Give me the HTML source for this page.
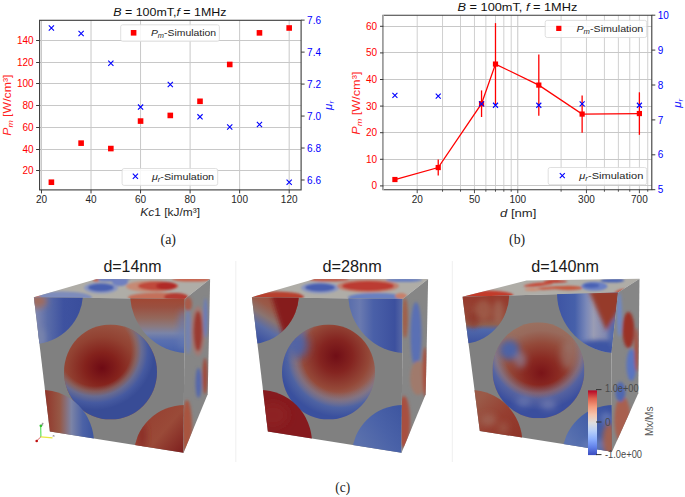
<!DOCTYPE html>
<html><head><meta charset="utf-8"><style>
html,body{margin:0;padding:0;background:#fff;}
body{width:685px;height:497px;overflow:hidden;}
svg{display:block;font-family:"Liberation Sans", sans-serif;}
</style></head><body>
<svg width="685" height="497" viewBox="0 0 685 497">
<defs>
<clipPath id="cf1"><polygon points="33.9,297.2 96.6,279 210.1,279.1 184.7,299"/></clipPath>
<filter id="bl2" x="-50%" y="-50%" width="200%" height="200%"><feGaussianBlur stdDeviation="1.2"/></filter>
<linearGradient id="lg3" gradientUnits="userSpaceOnUse" x1="36" y1="0" x2="82" y2="0"><stop offset="0" stop-color="#8088b0"/><stop offset="0.25" stop-color="#5a6ca8"/><stop offset="0.6" stop-color="#3e52a0"/><stop offset="1" stop-color="#3a4e9c"/></linearGradient>
<clipPath id="cb4"><ellipse cx="33" cy="293" rx="50" ry="51"/></clipPath>
<filter id="bl5" x="-50%" y="-50%" width="200%" height="200%"><feGaussianBlur stdDeviation="3"/></filter>
<radialGradient id="rg6" gradientUnits="userSpaceOnUse" cx="102" cy="368" r="52" gradientTransform="translate(102 368) scale(1.1 1) translate(-102 -368)"><stop offset="0" stop-color="#6e0a14"/><stop offset="0.3" stop-color="#84221c"/><stop offset="0.6" stop-color="#924232"/><stop offset="0.9" stop-color="#9a5644"/><stop offset="1" stop-color="#9c5c4a"/></radialGradient>
<radialGradient id="rg7" gradientUnits="userSpaceOnUse" cx="95" cy="350" r="60"><stop offset="0" stop-color="rgba(0,0,0,0)"/><stop offset="0.6" stop-color="rgba(130,110,110,0)"/><stop offset="0.69" stop-color="rgba(128,116,122,0.6)"/><stop offset="0.77" stop-color="rgba(100,112,155,0.9)"/><stop offset="0.88" stop-color="rgba(70,90,160,1)"/><stop offset="1" stop-color="rgba(56,76,150,1)"/></radialGradient>
<clipPath id="cb8"><ellipse cx="110.5" cy="372" rx="46.5" ry="47.6"/></clipPath>
<linearGradient id="lg9" gradientUnits="userSpaceOnUse" x1="0" y1="299" x2="0" y2="354"><stop offset="0" stop-color="#a04834"/><stop offset="0.15" stop-color="#9a5040"/><stop offset="0.35" stop-color="#94685c"/><stop offset="0.5" stop-color="#8a7a80"/><stop offset="0.62" stop-color="#7a84a8"/><stop offset="0.75" stop-color="#5a70b0"/><stop offset="1" stop-color="#4660aa"/></linearGradient>
<clipPath id="cb10"><ellipse cx="188" cy="293" rx="58" ry="60"/></clipPath>
<linearGradient id="lg11" gradientUnits="userSpaceOnUse" x1="46" y1="0" x2="92" y2="0"><stop offset="0" stop-color="#92382c"/><stop offset="0.3" stop-color="#965846"/><stop offset="0.55" stop-color="#7c84a6"/><stop offset="0.8" stop-color="#4c62a6"/><stop offset="1" stop-color="#3e56a0"/></linearGradient>
<clipPath id="cb12"><ellipse cx="42" cy="443" rx="52" ry="53"/></clipPath>
<linearGradient id="lg13" gradientUnits="userSpaceOnUse" x1="140" y1="412" x2="186" y2="452"><stop offset="0" stop-color="#963e30"/><stop offset="0.5" stop-color="#9a4a38"/><stop offset="1" stop-color="#7c1c1c"/></linearGradient>
<clipPath id="cb14"><ellipse cx="185" cy="455" rx="51" ry="50"/></clipPath>
<clipPath id="cf15"><polygon points="33.9,297.2 184.7,299 183.5,452.7 49.9,431.4"/></clipPath>
<clipPath id="cf16"><polygon points="184.7,299 210.1,279.1 207.7,394.3 183.5,452.7"/></clipPath>
<filter id="bl17" x="-50%" y="-50%" width="200%" height="200%"><feGaussianBlur stdDeviation="1.5"/></filter>
<clipPath id="cf18"><polygon points="33.9,297.2 96.6,279 210.1,279.1 184.7,299"/></clipPath>
<linearGradient id="lg19" gradientUnits="userSpaceOnUse" x1="38" y1="338" x2="60" y2="302"><stop offset="0" stop-color="#3e54a2"/><stop offset="0.3" stop-color="#5a6ca6"/><stop offset="0.55" stop-color="#8a7470"/><stop offset="0.8" stop-color="#9a5a48"/><stop offset="1" stop-color="#9a5040"/></linearGradient>
<clipPath id="cb20"><ellipse cx="33" cy="293" rx="48" ry="51"/></clipPath>
<filter id="bl21" x="-50%" y="-50%" width="200%" height="200%"><feGaussianBlur stdDeviation="2"/></filter>
<radialGradient id="rg22" gradientUnits="userSpaceOnUse" cx="118" cy="356" r="55"><stop offset="0" stop-color="#700e16"/><stop offset="0.3" stop-color="#842420"/><stop offset="0.6" stop-color="#944838"/><stop offset="0.85" stop-color="#987068"/><stop offset="1" stop-color="#8a7a80"/></radialGradient>
<radialGradient id="rg23" gradientUnits="userSpaceOnUse" cx="122" cy="355" r="62"><stop offset="0" stop-color="rgba(0,0,0,0)"/><stop offset="0.6" stop-color="rgba(120,120,140,0)"/><stop offset="0.72" stop-color="rgba(118,120,150,0.6)"/><stop offset="0.85" stop-color="rgba(75,98,165,0.95)"/><stop offset="1" stop-color="rgba(58,80,158,1)"/></radialGradient>
<clipPath id="cb24"><ellipse cx="110.5" cy="372" rx="46.5" ry="47.6"/></clipPath>
<filter id="bl25" x="-50%" y="-50%" width="200%" height="200%"><feGaussianBlur stdDeviation="4"/></filter>
<linearGradient id="lg26" gradientUnits="userSpaceOnUse" x1="131" y1="0" x2="185" y2="0"><stop offset="0" stop-color="#5a6eac"/><stop offset="0.2" stop-color="#6a7ab0"/><stop offset="0.45" stop-color="#4a60a8"/><stop offset="0.85" stop-color="#3c509e"/><stop offset="1" stop-color="#5a6aa6"/></linearGradient>
<clipPath id="cb27"><ellipse cx="188" cy="293" rx="58" ry="60"/></clipPath>
<clipPath id="cb28"><ellipse cx="42" cy="443" rx="52" ry="53"/></clipPath>
<linearGradient id="lg29" gradientUnits="userSpaceOnUse" x1="140" y1="440" x2="185" y2="410"><stop offset="0" stop-color="#5a70ac"/><stop offset="0.5" stop-color="#4a62a8"/><stop offset="1" stop-color="#3e56a0"/></linearGradient>
<clipPath id="cb30"><ellipse cx="185" cy="455" rx="51" ry="50"/></clipPath>
<clipPath id="cf31"><polygon points="33.9,297.2 184.7,299 183.5,452.7 49.9,431.4"/></clipPath>
<clipPath id="cf32"><polygon points="184.7,299 210.1,279.1 207.7,394.3 183.5,452.7"/></clipPath>
<clipPath id="cf33"><polygon points="34.1,296.8 98.1,280.4 211.1,278.7 189.6,292.5"/></clipPath>
<linearGradient id="lg34" gradientUnits="userSpaceOnUse" x1="0" y1="300" x2="0" y2="345"><stop offset="0" stop-color="#963c2e"/><stop offset="0.4" stop-color="#964a3a"/><stop offset="0.54" stop-color="#90604e"/><stop offset="0.66" stop-color="#5068aa"/><stop offset="1" stop-color="#3a50a0"/></linearGradient>
<clipPath id="cb35"><ellipse cx="33" cy="293" rx="48" ry="51"/></clipPath>
<filter id="bl36" x="-50%" y="-50%" width="200%" height="200%"><feGaussianBlur stdDeviation="2.5"/></filter>
<radialGradient id="rg37" gradientUnits="userSpaceOnUse" cx="113" cy="373" r="50" gradientTransform="translate(113 373) scale(1.1 1) translate(-113 -373)"><stop offset="0" stop-color="#7a1418"/><stop offset="0.3" stop-color="#8a2a22"/><stop offset="0.6" stop-color="#944a3a"/><stop offset="0.85" stop-color="#986a5c"/><stop offset="1" stop-color="#9a7060"/></radialGradient>
<radialGradient id="rg38" gradientUnits="userSpaceOnUse" cx="110" cy="350" r="60"><stop offset="0" stop-color="rgba(0,0,0,0)"/><stop offset="0.58" stop-color="rgba(120,120,140,0)"/><stop offset="0.72" stop-color="rgba(120,125,160,0.6)"/><stop offset="0.82" stop-color="rgba(80,100,168,0.92)"/><stop offset="1" stop-color="rgba(58,78,158,1)"/></radialGradient>
<clipPath id="cb39"><ellipse cx="110" cy="370.3" rx="46" ry="48"/></clipPath>
<linearGradient id="lg40" gradientUnits="userSpaceOnUse" x1="128" y1="0" x2="190" y2="0"><stop offset="0" stop-color="#3e54a4"/><stop offset="0.3" stop-color="#4660aa"/><stop offset="0.48" stop-color="#7a88b8"/><stop offset="0.6" stop-color="#9a9cb4"/><stop offset="0.8" stop-color="#8088b0"/><stop offset="1" stop-color="#5a6cac"/></linearGradient>
<clipPath id="cb41"><ellipse cx="188.6" cy="293" rx="60" ry="60"/></clipPath>
<filter id="bl42" x="-50%" y="-50%" width="200%" height="200%"><feGaussianBlur stdDeviation="2.2"/></filter>
<linearGradient id="lg43" gradientUnits="userSpaceOnUse" x1="50" y1="400" x2="90" y2="440"><stop offset="0" stop-color="#9a5a48"/><stop offset="0.5" stop-color="#963e30"/><stop offset="1" stop-color="#8e3428"/></linearGradient>
<clipPath id="cb44"><ellipse cx="42" cy="443" rx="52" ry="53"/></clipPath>
<linearGradient id="lg45" gradientUnits="userSpaceOnUse" x1="140" y1="440" x2="185" y2="410"><stop offset="0" stop-color="#5a72b0"/><stop offset="0.5" stop-color="#4460a8"/><stop offset="1" stop-color="#3a50a0"/></linearGradient>
<clipPath id="cb46"><ellipse cx="185" cy="455" rx="51" ry="50"/></clipPath>
<clipPath id="cf47"><polygon points="34.1,296.8 189.6,292.5 183.1,352 183.6,451.7 51.4,430.9"/></clipPath>
<clipPath id="cf48"><polygon points="189.6,292.5 211.1,278.7 209.9,393.3 183.6,451.7 183.1,352"/></clipPath>
<linearGradient id="lg49" gradientUnits="userSpaceOnUse" x1="0" y1="390.4" x2="0" y2="455.1"><stop offset="0" stop-color="#b40426"/><stop offset="0.125" stop-color="#de604d"/><stop offset="0.25" stop-color="#f49a7b"/><stop offset="0.375" stop-color="#f5c4ad"/><stop offset="0.5" stop-color="#dddddd"/><stop offset="0.625" stop-color="#b8d0f9"/><stop offset="0.75" stop-color="#8db0fe"/><stop offset="0.875" stop-color="#6282ea"/><stop offset="1" stop-color="#3b4cc0"/></linearGradient>
</defs>
<line x1="41.48" y1="20.3" x2="41.48" y2="189.9" stroke="#c8c8c8" stroke-width="1"/>
<line x1="91.02" y1="20.3" x2="91.02" y2="189.9" stroke="#c8c8c8" stroke-width="1"/>
<line x1="140.56" y1="20.3" x2="140.56" y2="189.9" stroke="#c8c8c8" stroke-width="1"/>
<line x1="190.1" y1="20.3" x2="190.1" y2="189.9" stroke="#c8c8c8" stroke-width="1"/>
<line x1="239.64" y1="20.3" x2="239.64" y2="189.9" stroke="#c8c8c8" stroke-width="1"/>
<line x1="289.18" y1="20.3" x2="289.18" y2="189.9" stroke="#c8c8c8" stroke-width="1"/>
<line x1="39.6" y1="170.5" x2="301.1" y2="170.5" stroke="#c8c8c8" stroke-width="1"/>
<line x1="39.6" y1="149.5" x2="301.1" y2="149.5" stroke="#c8c8c8" stroke-width="1"/>
<line x1="39.6" y1="127.5" x2="301.1" y2="127.5" stroke="#c8c8c8" stroke-width="1"/>
<line x1="39.6" y1="105.5" x2="301.1" y2="105.5" stroke="#c8c8c8" stroke-width="1"/>
<line x1="39.6" y1="83.5" x2="301.1" y2="83.5" stroke="#c8c8c8" stroke-width="1"/>
<line x1="39.6" y1="62.5" x2="301.1" y2="62.5" stroke="#c8c8c8" stroke-width="1"/>
<line x1="39.6" y1="40.5" x2="301.1" y2="40.5" stroke="#c8c8c8" stroke-width="1"/>
<rect x="48.59" y="179.42" width="5.6" height="5.6" fill="#ff0000"/>
<rect x="78.31" y="140.34" width="5.6" height="5.6" fill="#ff0000"/>
<rect x="108.04" y="145.76" width="5.6" height="5.6" fill="#ff0000"/>
<rect x="137.76" y="118.27" width="5.6" height="5.6" fill="#ff0000"/>
<rect x="167.49" y="112.64" width="5.6" height="5.6" fill="#ff0000"/>
<rect x="197.21" y="98.5" width="5.6" height="5.6" fill="#ff0000"/>
<rect x="226.93" y="61.66" width="5.6" height="5.6" fill="#ff0000"/>
<rect x="256.66" y="30.06" width="5.6" height="5.6" fill="#ff0000"/>
<rect x="286.38" y="25.19" width="5.6" height="5.6" fill="#ff0000"/>
<path d="M48.79 25.37L53.99 30.57M48.79 30.57L53.99 25.37" stroke="#0000ff" stroke-width="1.1" fill="none"/>
<path d="M78.51 30.97L83.71 36.17M78.51 36.17L83.71 30.97" stroke="#0000ff" stroke-width="1.1" fill="none"/>
<path d="M108.24 60.7L113.44 65.9M108.24 65.9L113.44 60.7" stroke="#0000ff" stroke-width="1.1" fill="none"/>
<path d="M137.96 104.5L143.16 109.7M137.96 109.7L143.16 104.5" stroke="#0000ff" stroke-width="1.1" fill="none"/>
<path d="M167.69 81.96L172.89 87.16M167.69 87.16L172.89 81.96" stroke="#0000ff" stroke-width="1.1" fill="none"/>
<path d="M197.41 114.25L202.61 119.45M197.41 119.45L202.61 114.25" stroke="#0000ff" stroke-width="1.1" fill="none"/>
<path d="M227.13 124.48L232.33 129.68M227.13 129.68L232.33 124.48" stroke="#0000ff" stroke-width="1.1" fill="none"/>
<path d="M256.86 121.92L262.06 127.12M256.86 127.12L262.06 121.92" stroke="#0000ff" stroke-width="1.1" fill="none"/>
<path d="M286.58 179.63L291.78 184.83M286.58 184.83L291.78 179.63" stroke="#0000ff" stroke-width="1.1" fill="none"/>
<rect x="39.6" y="20.3" width="261.5" height="169.6" fill="none" stroke="#3a3a3a" stroke-width="1.1"/>
<line x1="41.48" y1="189.9" x2="41.48" y2="193.4" stroke="#3a3a3a" stroke-width="1"/>
<text x="41.48" y="203" font-size="10" fill="#262626" text-anchor="middle" >20</text>
<line x1="91.02" y1="189.9" x2="91.02" y2="193.4" stroke="#3a3a3a" stroke-width="1"/>
<text x="91.02" y="203" font-size="10" fill="#262626" text-anchor="middle" >40</text>
<line x1="140.56" y1="189.9" x2="140.56" y2="193.4" stroke="#3a3a3a" stroke-width="1"/>
<text x="140.56" y="203" font-size="10" fill="#262626" text-anchor="middle" >60</text>
<line x1="190.1" y1="189.9" x2="190.1" y2="193.4" stroke="#3a3a3a" stroke-width="1"/>
<text x="190.1" y="203" font-size="10" fill="#262626" text-anchor="middle" >80</text>
<line x1="239.64" y1="189.9" x2="239.64" y2="193.4" stroke="#3a3a3a" stroke-width="1"/>
<text x="239.64" y="203" font-size="10" fill="#262626" text-anchor="middle" >100</text>
<line x1="289.18" y1="189.9" x2="289.18" y2="193.4" stroke="#3a3a3a" stroke-width="1"/>
<text x="289.18" y="203" font-size="10" fill="#262626" text-anchor="middle" >120</text>
<line x1="36.1" y1="170.5" x2="39.6" y2="170.5" stroke="#3a3a3a" stroke-width="1"/>
<text x="33.6" y="174" font-size="10" fill="#ff0000" text-anchor="end" >20</text>
<line x1="36.1" y1="149.5" x2="39.6" y2="149.5" stroke="#3a3a3a" stroke-width="1"/>
<text x="33.6" y="153" font-size="10" fill="#ff0000" text-anchor="end" >40</text>
<line x1="36.1" y1="127.5" x2="39.6" y2="127.5" stroke="#3a3a3a" stroke-width="1"/>
<text x="33.6" y="131" font-size="10" fill="#ff0000" text-anchor="end" >60</text>
<line x1="36.1" y1="105.5" x2="39.6" y2="105.5" stroke="#3a3a3a" stroke-width="1"/>
<text x="33.6" y="109" font-size="10" fill="#ff0000" text-anchor="end" >80</text>
<line x1="36.1" y1="83.5" x2="39.6" y2="83.5" stroke="#3a3a3a" stroke-width="1"/>
<text x="33.6" y="87" font-size="10" fill="#ff0000" text-anchor="end" >100</text>
<line x1="36.1" y1="62.5" x2="39.6" y2="62.5" stroke="#3a3a3a" stroke-width="1"/>
<text x="33.6" y="66" font-size="10" fill="#ff0000" text-anchor="end" >120</text>
<line x1="36.1" y1="40.5" x2="39.6" y2="40.5" stroke="#3a3a3a" stroke-width="1"/>
<text x="33.6" y="44" font-size="10" fill="#ff0000" text-anchor="end" >140</text>
<line x1="301.1" y1="20.14" x2="304.6" y2="20.14" stroke="#3a3a3a" stroke-width="1"/>
<text x="307.1" y="23.94" font-size="10" fill="#0000ff" >7.6</text>
<line x1="301.1" y1="52.11" x2="304.6" y2="52.11" stroke="#3a3a3a" stroke-width="1"/>
<text x="307.1" y="55.91" font-size="10" fill="#0000ff" >7.4</text>
<line x1="301.1" y1="84.08" x2="304.6" y2="84.08" stroke="#3a3a3a" stroke-width="1"/>
<text x="307.1" y="87.88" font-size="10" fill="#0000ff" >7.2</text>
<line x1="301.1" y1="116.05" x2="304.6" y2="116.05" stroke="#3a3a3a" stroke-width="1"/>
<text x="307.1" y="119.85" font-size="10" fill="#0000ff" >7.0</text>
<line x1="301.1" y1="148.02" x2="304.6" y2="148.02" stroke="#3a3a3a" stroke-width="1"/>
<text x="307.1" y="151.82" font-size="10" fill="#0000ff" >6.8</text>
<line x1="301.1" y1="179.99" x2="304.6" y2="179.99" stroke="#3a3a3a" stroke-width="1"/>
<text x="307.1" y="183.79" font-size="10" fill="#0000ff" >6.6</text>
<rect x="120.7" y="24.8" width="98.7" height="16.5" rx="2" fill="#fff" fill-opacity="0.85" stroke="#d8d8d8" stroke-width="0.8"/>
<rect x="130.79999999999998" y="29.999999999999996" width="5.6" height="5.6" fill="#ff0000"/>
<text x="150.9" y="36.4" font-size="9.8" fill="#262626" textLength="65.2" lengthAdjust="spacingAndGlyphs"><tspan font-style="italic">P</tspan><tspan font-style="italic" font-size="7" dy="2">m</tspan><tspan dy="-2">-Simulation</tspan></text>
<rect x="122.1" y="168.5" width="95.6" height="16.9" rx="2" fill="#fff" fill-opacity="0.85" stroke="#d8d8d8" stroke-width="0.8"/>
<path d="M132.8 173.6L138 178.8M132.8 178.8L138 173.6" stroke="#0000ff" stroke-width="1.1" fill="none"/>
<text x="151.9" y="179.9" font-size="9.8" fill="#262626" textLength="62.2" lengthAdjust="spacingAndGlyphs"><tspan font-style="italic">μ</tspan><tspan font-style="italic" font-size="7" dy="2">r</tspan><tspan dy="-2">-Simulation</tspan></text>
<text x="113.3" y="15.9" font-size="11.4" fill="#111" textLength="113.1" lengthAdjust="spacingAndGlyphs"><tspan font-style="italic">B</tspan> = 100mT,<tspan font-style="italic">f</tspan> = 1MHz</text>
<text x="140.3" y="216.4" font-size="10.5" fill="#262626" textLength="59.7" lengthAdjust="spacingAndGlyphs"><tspan font-style="italic">Kc</tspan>1 [kJ/m³]</text>
<text transform="translate(11.2 105.2) rotate(-90)" x="0" y="0" font-size="10.5" fill="#ff2020" text-anchor="middle" textLength="61.3" lengthAdjust="spacingAndGlyphs"><tspan font-style="italic">P</tspan><tspan font-style="italic" font-size="7.5" dy="2">m</tspan><tspan dy="-2"> [W/cm³]</tspan></text>
<text transform="translate(332.2 105.4) rotate(-90)" x="0" y="0" font-size="11.5" fill="#2020ff" text-anchor="middle"><tspan font-style="italic">μ</tspan><tspan font-style="italic" font-size="8" dy="2">r</tspan></text>
<text x="160.5" y="244" font-size="14.5" fill="#222" style="font-family:'Liberation Serif',serif" textLength="15.5" lengthAdjust="spacingAndGlyphs">(a)</text>
<line x1="417.2" y1="15.2" x2="417.2" y2="189.7" stroke="#d0d0d0" stroke-width="1"/>
<line x1="442.54" y1="15.2" x2="442.54" y2="189.7" stroke="#d0d0d0" stroke-width="1"/>
<line x1="460.52" y1="15.2" x2="460.52" y2="189.7" stroke="#d0d0d0" stroke-width="1"/>
<line x1="474.46" y1="15.2" x2="474.46" y2="189.7" stroke="#d0d0d0" stroke-width="1"/>
<line x1="485.86" y1="15.2" x2="485.86" y2="189.7" stroke="#d0d0d0" stroke-width="1"/>
<line x1="495.49" y1="15.2" x2="495.49" y2="189.7" stroke="#d0d0d0" stroke-width="1"/>
<line x1="503.84" y1="15.2" x2="503.84" y2="189.7" stroke="#d0d0d0" stroke-width="1"/>
<line x1="511.2" y1="15.2" x2="511.2" y2="189.7" stroke="#d0d0d0" stroke-width="1"/>
<line x1="517.78" y1="15.2" x2="517.78" y2="189.7" stroke="#c8c8c8" stroke-width="1"/>
<line x1="561.1" y1="15.2" x2="561.1" y2="189.7" stroke="#d0d0d0" stroke-width="1"/>
<line x1="586.44" y1="15.2" x2="586.44" y2="189.7" stroke="#d0d0d0" stroke-width="1"/>
<line x1="604.42" y1="15.2" x2="604.42" y2="189.7" stroke="#d0d0d0" stroke-width="1"/>
<line x1="618.36" y1="15.2" x2="618.36" y2="189.7" stroke="#d0d0d0" stroke-width="1"/>
<line x1="629.76" y1="15.2" x2="629.76" y2="189.7" stroke="#d0d0d0" stroke-width="1"/>
<line x1="639.39" y1="15.2" x2="639.39" y2="189.7" stroke="#d0d0d0" stroke-width="1"/>
<line x1="647.74" y1="15.2" x2="647.74" y2="189.7" stroke="#d0d0d0" stroke-width="1"/>
<line x1="383.5" y1="185.5" x2="651.8" y2="185.5" stroke="#c8c8c8" stroke-width="1"/>
<line x1="383.5" y1="159.5" x2="651.8" y2="159.5" stroke="#c8c8c8" stroke-width="1"/>
<line x1="383.5" y1="132.5" x2="651.8" y2="132.5" stroke="#c8c8c8" stroke-width="1"/>
<line x1="383.5" y1="106.5" x2="651.8" y2="106.5" stroke="#c8c8c8" stroke-width="1"/>
<line x1="383.5" y1="79.5" x2="651.8" y2="79.5" stroke="#c8c8c8" stroke-width="1"/>
<line x1="383.5" y1="52.5" x2="651.8" y2="52.5" stroke="#c8c8c8" stroke-width="1"/>
<line x1="383.5" y1="26.5" x2="651.8" y2="26.5" stroke="#c8c8c8" stroke-width="1"/>
<line x1="438.23" y1="159.57" x2="438.23" y2="175.53" stroke="#ff0000" stroke-width="1.3"/>
<line x1="481.55" y1="90.41" x2="481.55" y2="117.01" stroke="#ff0000" stroke-width="1.3"/>
<line x1="495.49" y1="23.11" x2="495.49" y2="105.04" stroke="#ff0000" stroke-width="1.3"/>
<line x1="538.81" y1="54.5" x2="538.81" y2="115.68" stroke="#ff0000" stroke-width="1.3"/>
<line x1="582.13" y1="95.46" x2="582.13" y2="132.7" stroke="#ff0000" stroke-width="1.3"/>
<line x1="639.39" y1="92.27" x2="639.39" y2="134.83" stroke="#ff0000" stroke-width="1.3"/>
<polyline points="394.91,179.52 438.23,167.55 481.55,103.71 495.49,64.07 538.81,85.09 582.13,114.08 639.39,113.55" fill="none" stroke="#ff0000" stroke-width="1.3"/>
<rect x="392.31" y="176.92" width="5.2" height="5.2" fill="#ff0000"/>
<rect x="435.63" y="164.95" width="5.2" height="5.2" fill="#ff0000"/>
<rect x="478.95" y="101.11" width="5.2" height="5.2" fill="#ff0000"/>
<rect x="492.89" y="61.47" width="5.2" height="5.2" fill="#ff0000"/>
<rect x="536.21" y="82.49" width="5.2" height="5.2" fill="#ff0000"/>
<rect x="579.53" y="111.48" width="5.2" height="5.2" fill="#ff0000"/>
<rect x="636.79" y="110.95" width="5.2" height="5.2" fill="#ff0000"/>
<path d="M392.41 92.97L397.41 97.97M392.41 97.97L397.41 92.97" stroke="#0000ff" stroke-width="1.1" fill="none"/>
<path d="M435.73 93.67L440.73 98.67M435.73 98.67L440.73 93.67" stroke="#0000ff" stroke-width="1.1" fill="none"/>
<path d="M479.05 101.35L484.05 106.35M479.05 106.35L484.05 101.35" stroke="#0000ff" stroke-width="1.1" fill="none"/>
<path d="M492.99 102.74L497.99 107.74M492.99 107.74L497.99 102.74" stroke="#0000ff" stroke-width="1.1" fill="none"/>
<path d="M536.31 102.74L541.31 107.74M536.31 107.74L541.31 102.74" stroke="#0000ff" stroke-width="1.1" fill="none"/>
<path d="M579.63 101.35L584.63 106.35M579.63 106.35L584.63 101.35" stroke="#0000ff" stroke-width="1.1" fill="none"/>
<path d="M636.89 102.74L641.89 107.74M636.89 107.74L641.89 102.74" stroke="#0000ff" stroke-width="1.1" fill="none"/>
<path d="M383.5 15.2H651.8V189.7H383.5" fill="none" stroke="#3a3a3a" stroke-width="1.1"/>
<line x1="382.9" y1="14.7" x2="382.9" y2="190.2" stroke="#9a9a9a" stroke-width="1.7"/>
<line x1="417.2" y1="189.7" x2="417.2" y2="193.2" stroke="#3a3a3a" stroke-width="0.9"/>
<line x1="442.54" y1="189.7" x2="442.54" y2="191.7" stroke="#3a3a3a" stroke-width="0.9"/>
<line x1="460.52" y1="189.7" x2="460.52" y2="191.7" stroke="#3a3a3a" stroke-width="0.9"/>
<line x1="474.46" y1="189.7" x2="474.46" y2="193.2" stroke="#3a3a3a" stroke-width="0.9"/>
<line x1="485.86" y1="189.7" x2="485.86" y2="191.7" stroke="#3a3a3a" stroke-width="0.9"/>
<line x1="495.49" y1="189.7" x2="495.49" y2="191.7" stroke="#3a3a3a" stroke-width="0.9"/>
<line x1="503.84" y1="189.7" x2="503.84" y2="191.7" stroke="#3a3a3a" stroke-width="0.9"/>
<line x1="511.2" y1="189.7" x2="511.2" y2="191.7" stroke="#3a3a3a" stroke-width="0.9"/>
<line x1="517.78" y1="189.7" x2="517.78" y2="193.2" stroke="#3a3a3a" stroke-width="0.9"/>
<line x1="561.1" y1="189.7" x2="561.1" y2="191.7" stroke="#3a3a3a" stroke-width="0.9"/>
<line x1="586.44" y1="189.7" x2="586.44" y2="193.2" stroke="#3a3a3a" stroke-width="0.9"/>
<line x1="604.42" y1="189.7" x2="604.42" y2="191.7" stroke="#3a3a3a" stroke-width="0.9"/>
<line x1="618.36" y1="189.7" x2="618.36" y2="191.7" stroke="#3a3a3a" stroke-width="0.9"/>
<line x1="629.76" y1="189.7" x2="629.76" y2="191.7" stroke="#3a3a3a" stroke-width="0.9"/>
<line x1="639.39" y1="189.7" x2="639.39" y2="193.2" stroke="#3a3a3a" stroke-width="0.9"/>
<line x1="647.74" y1="189.7" x2="647.74" y2="191.7" stroke="#3a3a3a" stroke-width="0.9"/>
<text x="417.2" y="203.3" font-size="10" fill="#262626" text-anchor="middle" >20</text>
<text x="474.46" y="203.3" font-size="10" fill="#262626" text-anchor="middle" >50</text>
<text x="517.78" y="203.3" font-size="10" fill="#262626" text-anchor="middle" >100</text>
<text x="586.44" y="203.3" font-size="10" fill="#262626" text-anchor="middle" >300</text>
<text x="639.39" y="203.3" font-size="10" fill="#262626" text-anchor="middle" >700</text>
<line x1="380.0" y1="185.9" x2="383.5" y2="185.9" stroke="#3a3a3a" stroke-width="1"/>
<text x="377" y="189.4" font-size="10" fill="#ff0000" text-anchor="end" >0</text>
<line x1="380.0" y1="159.3" x2="383.5" y2="159.3" stroke="#3a3a3a" stroke-width="1"/>
<text x="377" y="162.8" font-size="10" fill="#ff0000" text-anchor="end" >10</text>
<line x1="380.0" y1="132.7" x2="383.5" y2="132.7" stroke="#3a3a3a" stroke-width="1"/>
<text x="377" y="136.2" font-size="10" fill="#ff0000" text-anchor="end" >20</text>
<line x1="380.0" y1="106.1" x2="383.5" y2="106.1" stroke="#3a3a3a" stroke-width="1"/>
<text x="377" y="109.6" font-size="10" fill="#ff0000" text-anchor="end" >30</text>
<line x1="380.0" y1="79.5" x2="383.5" y2="79.5" stroke="#3a3a3a" stroke-width="1"/>
<text x="377" y="83" font-size="10" fill="#ff0000" text-anchor="end" >40</text>
<line x1="380.0" y1="52.9" x2="383.5" y2="52.9" stroke="#3a3a3a" stroke-width="1"/>
<text x="377" y="56.4" font-size="10" fill="#ff0000" text-anchor="end" >50</text>
<line x1="380.0" y1="26.3" x2="383.5" y2="26.3" stroke="#3a3a3a" stroke-width="1"/>
<text x="377" y="29.8" font-size="10" fill="#ff0000" text-anchor="end" >60</text>
<line x1="651.8" y1="189.7" x2="655.3" y2="189.7" stroke="#3a3a3a" stroke-width="1"/>
<text x="657.8" y="193.3" font-size="10" fill="#0000ff" >5</text>
<line x1="651.8" y1="154.8" x2="655.3" y2="154.8" stroke="#3a3a3a" stroke-width="1"/>
<text x="657.8" y="158.4" font-size="10" fill="#0000ff" >6</text>
<line x1="651.8" y1="119.9" x2="655.3" y2="119.9" stroke="#3a3a3a" stroke-width="1"/>
<text x="657.8" y="123.5" font-size="10" fill="#0000ff" >7</text>
<line x1="651.8" y1="85" x2="655.3" y2="85" stroke="#3a3a3a" stroke-width="1"/>
<text x="657.8" y="88.6" font-size="10" fill="#0000ff" >8</text>
<line x1="651.8" y1="50.1" x2="655.3" y2="50.1" stroke="#3a3a3a" stroke-width="1"/>
<text x="657.8" y="53.7" font-size="10" fill="#0000ff" >9</text>
<line x1="651.8" y1="15.2" x2="655.3" y2="15.2" stroke="#3a3a3a" stroke-width="1"/>
<text x="657.8" y="18.8" font-size="10" fill="#0000ff" >10</text>
<rect x="545.2" y="20.4" width="101.5" height="17.1" rx="2" fill="#fff" fill-opacity="0.85" stroke="#d8d8d8" stroke-width="0.8"/>
<rect x="556.1999999999999" y="25.799999999999997" width="5.2" height="5.2" fill="#ff0000"/>
<text x="576.5" y="32.2" font-size="9.8" fill="#262626" textLength="66.8" lengthAdjust="spacingAndGlyphs"><tspan font-style="italic">P</tspan><tspan font-style="italic" font-size="7" dy="2">m</tspan><tspan dy="-2">-Simulation</tspan></text>
<rect x="548.2" y="167.5" width="98.5" height="17.2" rx="2" fill="#fff" fill-opacity="0.85" stroke="#d8d8d8" stroke-width="0.8"/>
<path d="M559.8 173.1L564.8 178.1M559.8 178.1L564.8 173.1" stroke="#0000ff" stroke-width="1.1" fill="none"/>
<text x="579.3" y="179.4" font-size="9.8" fill="#262626" textLength="64" lengthAdjust="spacingAndGlyphs"><tspan font-style="italic">μ</tspan><tspan font-style="italic" font-size="7" dy="2">r</tspan><tspan dy="-2">-Simulation</tspan></text>
<text x="457.5" y="11" font-size="11.4" fill="#111" textLength="119.8" lengthAdjust="spacingAndGlyphs"><tspan font-style="italic">B</tspan> = 100mT, <tspan font-style="italic">f</tspan> = 1MHz</text>
<text x="500" y="216.5" font-size="10.5" fill="#262626" textLength="36.4" lengthAdjust="spacingAndGlyphs"><tspan font-style="italic">d</tspan> [nm]</text>
<text transform="translate(360 103.2) rotate(-90)" x="0" y="0" font-size="10.5" fill="#ff2020" text-anchor="middle" textLength="63.2" lengthAdjust="spacingAndGlyphs"><tspan font-style="italic">P</tspan><tspan font-style="italic" font-size="7.5" dy="2">m</tspan><tspan dy="-2"> [W/cm³]</tspan></text>
<text transform="translate(680.6 103.2) rotate(-90)" x="0" y="0" font-size="11.5" fill="#2020ff" text-anchor="middle"><tspan font-style="italic">μ</tspan><tspan font-style="italic" font-size="8" dy="2">r</tspan></text>
<text x="509.1" y="244" font-size="14.5" fill="#222" style="font-family:'Liberation Serif',serif" textLength="16.1" lengthAdjust="spacingAndGlyphs">(b)</text>
<polygon points="33.9,297.2 96.6,279 210.1,279.1 184.7,299" fill="#afada7"/><g clip-path="url(#cf1)"><g filter="url(#bl2)"><ellipse cx="62" cy="297.5" rx="30" ry="6" fill="#7e8cbc"/><ellipse cx="36" cy="298" rx="5" ry="3" fill="#c07060"/><ellipse cx="101" cy="288" rx="17" ry="5.5" fill="#8a96c0"/><ellipse cx="101" cy="287.5" rx="13" ry="4" fill="#4a60b0"/><ellipse cx="112" cy="279.6" rx="18" ry="2" fill="#6a7cc0"/><ellipse cx="96" cy="280" rx="3" ry="1.5" fill="#c06050"/><ellipse cx="150" cy="286.3" rx="24" ry="5.5" fill="#c68a74"/><ellipse cx="158" cy="286" rx="20" ry="4.6" fill="#c0483a"/><ellipse cx="166" cy="286" rx="10" ry="3.8" fill="#b02a28"/><ellipse cx="158" cy="297.5" rx="30" ry="5" fill="#c4705a"/><ellipse cx="176" cy="297" rx="12" ry="4" fill="#b43a30"/><ellipse cx="192" cy="279.5" rx="20" ry="2" fill="#c8604c"/><ellipse cx="120" cy="282" rx="8" ry="4" fill="#7080c0"/></g></g><polygon points="33.9,297.2 184.7,299 183.5,452.7 49.9,431.4" fill="#808080"/><g clip-path="url(#cf15)"><g clip-path="url(#cb4)"><rect x="-17" y="242" width="100" height="102" fill="url(#lg3)"/><g filter="url(#bl5)"><ellipse cx="38" cy="301" rx="9" ry="7" fill="#a06a5c"/><ellipse cx="40" cy="338" rx="5" ry="10" fill="#7884ac"/></g></g><g clip-path="url(#cb8)"><rect x="64" y="324.4" width="93" height="95.2" fill="url(#rg6)"/><rect x="64" y="324.4" width="93" height="95.2" fill="url(#rg7)"/></g><g clip-path="url(#cb10)"><rect x="130" y="233" width="116" height="120" fill="url(#lg9)"/><g filter="url(#bl5)"><ellipse cx="183" cy="330" rx="5" ry="20" fill="#6a7cb0" opacity="0.7"/></g></g><g clip-path="url(#cb12)"><rect x="-10" y="390" width="104" height="106" fill="url(#lg11)"/></g><g clip-path="url(#cb14)"><rect x="134" y="405" width="102" height="100" fill="url(#lg13)"/><g filter="url(#bl5)"><ellipse cx="142" cy="436" rx="5" ry="14" fill="#8a2c24" opacity="0.8"/></g></g></g><polygon points="184.7,299 210.1,279.1 207.7,394.3 183.5,452.7" fill="#868686"/><g clip-path="url(#cf16)"><g filter="url(#bl17)"><ellipse cx="188" cy="304" rx="4" ry="7" fill="#a85a48"/><ellipse cx="188" cy="332" rx="3.5" ry="22" fill="#7482ae"/><ellipse cx="198" cy="331" rx="7" ry="25" fill="#a07a74"/><ellipse cx="198" cy="331" rx="4.5" ry="20" fill="#9a3a30"/><ellipse cx="205.5" cy="318" rx="2.2" ry="20" fill="#6a7cb8"/><ellipse cx="198.5" cy="383" rx="3" ry="15" fill="#5468ac"/><ellipse cx="205" cy="376" rx="2.5" ry="18" fill="#a04a3a"/><ellipse cx="187" cy="428" rx="5" ry="28" fill="#a8553f"/></g></g>
<g transform="translate(218 0)"><polygon points="33.9,297.2 96.6,279 210.1,279.1 184.7,299" fill="#afada7"/><g clip-path="url(#cf18)"><g filter="url(#bl2)"><ellipse cx="58" cy="297" rx="28" ry="5.5" fill="#b8402e"/><ellipse cx="102" cy="288" rx="19" ry="5.5" fill="#8a96c0"/><ellipse cx="102" cy="287.5" rx="15" ry="4" fill="#4a5eb0"/><ellipse cx="150" cy="286" rx="31" ry="6.5" fill="#c08070"/><ellipse cx="150" cy="286" rx="26" ry="5" fill="#bc3a30"/><ellipse cx="158" cy="297.5" rx="28" ry="4.5" fill="#6a80c0"/><ellipse cx="111" cy="279.5" rx="20" ry="2" fill="#c05848"/><ellipse cx="186" cy="280" rx="18" ry="2" fill="#6a80c0"/><ellipse cx="183" cy="296" rx="6" ry="3" fill="#c8806a"/></g></g><polygon points="33.9,297.2 184.7,299 183.5,452.7 49.9,431.4" fill="#808080"/><g clip-path="url(#cf31)"><g clip-path="url(#cb20)"><rect x="-15" y="242" width="96" height="102" fill="url(#lg19)"/><g filter="url(#bl21)"><polygon points="53,294 86,294 86,318 66,337" fill="#861a1c"/></g></g><g clip-path="url(#cb24)"><rect x="64" y="324.4" width="93" height="95.2" fill="url(#rg22)"/><rect x="64" y="324.4" width="93" height="95.2" fill="url(#rg23)"/><g filter="url(#bl25)"><ellipse cx="80" cy="345" rx="10" ry="13" fill="#4a62aa" opacity="0.9"/></g></g><g clip-path="url(#cb27)"><rect x="130" y="233" width="116" height="120" fill="url(#lg26)"/></g><g clip-path="url(#cb28)"><rect x="-10" y="390" width="104" height="106" fill="#861a1e"/><g filter="url(#bl25)"><ellipse cx="55" cy="415" rx="15" ry="12" fill="#922a24" opacity="0.6"/></g></g><g clip-path="url(#cb30)"><rect x="134" y="405" width="102" height="100" fill="url(#lg29)"/></g></g><polygon points="184.7,299 210.1,279.1 207.7,394.3 183.5,452.7" fill="#868686"/><g clip-path="url(#cf32)"><g filter="url(#bl17)"><ellipse cx="187" cy="318" rx="3" ry="20" fill="#a0604c"/><ellipse cx="198" cy="335" rx="5.5" ry="33" fill="#5a70b4"/><ellipse cx="200" cy="378" rx="8" ry="17" fill="#a07a6c"/><ellipse cx="207" cy="372" rx="2.5" ry="25" fill="#a8503e"/><ellipse cx="186" cy="422" rx="6" ry="26" fill="#a85040"/></g></g></g>
<g transform="translate(428.4 0)"><polygon points="34.1,296.8 98.1,280.4 211.1,278.7 189.6,292.5" fill="#afada7"/><g clip-path="url(#cf33)"><g filter="url(#bl2)"><ellipse cx="58" cy="295.5" rx="27" ry="5" fill="#c23a2c"/><ellipse cx="110" cy="284.5" rx="15" ry="1.7" fill="#c84a38" transform="rotate(-6 110 284.5)"/><ellipse cx="122" cy="288" rx="14" ry="1.6" fill="#c86048" transform="rotate(-4 122 288)"/><ellipse cx="127" cy="281.5" rx="12" ry="1.5" fill="#c04030"/><ellipse cx="104" cy="289.5" rx="8" ry="1.5" fill="#d08a70"/><ellipse cx="140" cy="288" rx="14" ry="2.2" fill="#c45a40"/><ellipse cx="125" cy="280.6" rx="6" ry="1.2" fill="#c04030"/><ellipse cx="166" cy="286.3" rx="13" ry="4.5" fill="#6a80c4"/><ellipse cx="163" cy="285.5" rx="8" ry="2.5" fill="#4a62b4"/><ellipse cx="184" cy="280.5" rx="12" ry="2" fill="#4a62b4"/><ellipse cx="196" cy="294" rx="10" ry="5" fill="#c05a48"/></g></g><polygon points="34.1,296.8 189.6,292.5 183.1,352 183.6,451.7 51.4,430.9" fill="#808080"/><g clip-path="url(#cf47)"><g clip-path="url(#cb35)"><rect x="-15" y="242" width="96" height="102" fill="url(#lg34)"/><g filter="url(#bl36)"><ellipse cx="55" cy="310" rx="8" ry="10" fill="#a0604c" opacity="0.7"/><ellipse cx="70" cy="312" rx="5" ry="12" fill="#a4705e" opacity="0.6"/><ellipse cx="45" cy="320" rx="6" ry="8" fill="#8c3028" opacity="0.6"/></g></g><g clip-path="url(#cb39)"><rect x="64" y="322.3" width="92" height="96" fill="url(#rg37)"/><rect x="64" y="322.3" width="92" height="96" fill="url(#rg38)"/><g filter="url(#bl5)"><ellipse cx="81" cy="350" rx="10" ry="10" fill="#4a62aa" opacity="0.95"/><ellipse cx="92" cy="360" rx="6" ry="8" fill="#8a8aa8" opacity="0.6"/><ellipse cx="140" cy="355" rx="8" ry="14" fill="#9a8078" opacity="0.5"/><ellipse cx="120" cy="405" rx="8" ry="5" fill="#8a90b8" opacity="0.5"/><ellipse cx="95" cy="402" rx="7" ry="5" fill="#7a88b8" opacity="0.5"/></g></g><g clip-path="url(#cb41)"><rect x="128.6" y="233" width="120" height="120" fill="url(#lg40)"/><g filter="url(#bl42)"><polygon points="160,290 192,290 192,306 178,331" fill="#963a2c"/><ellipse cx="172" cy="348" rx="26" ry="8" fill="#3e54a4"/><ellipse cx="186" cy="335" rx="6" ry="14" fill="#5066aa" opacity="0.8"/></g></g><g clip-path="url(#cb44)"><rect x="-10" y="390" width="104" height="106" fill="url(#lg43)"/><g filter="url(#bl5)"><ellipse cx="60" cy="420" rx="8" ry="6" fill="#a06a58" opacity="0.7"/><ellipse cx="75" cy="428" rx="5" ry="6" fill="#a06a58" opacity="0.5"/></g></g><g clip-path="url(#cb46)"><rect x="134" y="405" width="102" height="100" fill="url(#lg45)"/><g filter="url(#bl36)"><ellipse cx="165" cy="445" rx="12" ry="6" fill="#6a80b8" opacity="0.6"/><ellipse cx="181" cy="440" rx="7" ry="17" fill="#a06050"/><ellipse cx="178" cy="418" rx="6" ry="6" fill="#6a7cb8" opacity="0.7"/></g></g></g><polygon points="189.6,292.5 211.1,278.7 209.9,393.3 183.6,451.7 183.1,352" fill="#868686"/><g clip-path="url(#cf48)"><g filter="url(#bl17)"><ellipse cx="200" cy="330" rx="6" ry="18" fill="#9a3028"/><ellipse cx="191" cy="315" rx="2.5" ry="22" fill="#7088c4"/><ellipse cx="203" cy="365" rx="5" ry="16" fill="#5a74c0"/><ellipse cx="194" cy="420" rx="8" ry="24" fill="#a86050"/><ellipse cx="192" cy="392" rx="5" ry="10" fill="#5068b0"/><ellipse cx="208" cy="350" rx="2" ry="22" fill="#a85040"/></g></g></g>
<line x1="235.8" y1="261" x2="235.8" y2="462" stroke="#efefef" stroke-width="1"/>
<line x1="452.3" y1="261" x2="452.3" y2="462" stroke="#efefef" stroke-width="1"/>
<text x="103.4" y="272" font-size="16" fill="#1a1a1a" textLength="58.1" lengthAdjust="spacingAndGlyphs" >d=14nm</text>
<text x="322.5" y="272" font-size="16" fill="#1a1a1a" textLength="59.2" lengthAdjust="spacingAndGlyphs" >d=28nm</text>
<text x="531.2" y="272" font-size="16" fill="#1a1a1a" textLength="67.8" lengthAdjust="spacingAndGlyphs" >d=140nm</text>
<line x1="40.9" y1="436.9" x2="40.7" y2="425.5" stroke="#50e050" stroke-width="1.1"/>
<circle cx="40.9" cy="425.8" r="1.4" fill="#30c030"/>
<line x1="40.9" y1="436.9" x2="52.5" y2="437.8" stroke="#e8e840" stroke-width="1.2"/>
<line x1="40.9" y1="436.9" x2="37" y2="440.5" stroke="#d04040" stroke-width="0.8"/>
<circle cx="36.7" cy="441" r="1.3" fill="#c01010"/>
<path d="M41.8 423.3h1.4l-1.4 1.6h1.4" stroke="#555" stroke-width="0.6" fill="none"/>
<path d="M53 435.2l1.2 1.4M54.2 435.2l-1.2 1.4" stroke="#555" stroke-width="0.6" fill="none"/>
<rect x="588" y="390.4" width="9" height="64.7" fill="url(#lg49)"/>
<line x1="596" y1="389.6" x2="601.5" y2="389.6" stroke="#333" stroke-width="1"/>
<line x1="596" y1="422" x2="601.5" y2="422" stroke="#333" stroke-width="1"/>
<line x1="596" y1="454.6" x2="601.5" y2="454.6" stroke="#333" stroke-width="1"/>
<text x="605" y="392.2" font-size="10" fill="#4a4a4a" textLength="33.5" lengthAdjust="spacingAndGlyphs" >1.0e+00</text>
<text x="605" y="425.6" font-size="10" fill="#4a4a4a" >0</text>
<text x="605" y="458.4" font-size="10" fill="#4a4a4a" textLength="37" lengthAdjust="spacingAndGlyphs" >-1.0e+00</text>
<text transform="translate(652.6 421.3) rotate(-90)" font-size="10" fill="#555" text-anchor="middle" textLength="29.4" lengthAdjust="spacingAndGlyphs">Mx/Ms</text>
<text x="335.3" y="492" font-size="14.5" fill="#222" style="font-family:'Liberation Serif',serif" textLength="14.8" lengthAdjust="spacingAndGlyphs">(c)</text>
</svg>
</body></html>
